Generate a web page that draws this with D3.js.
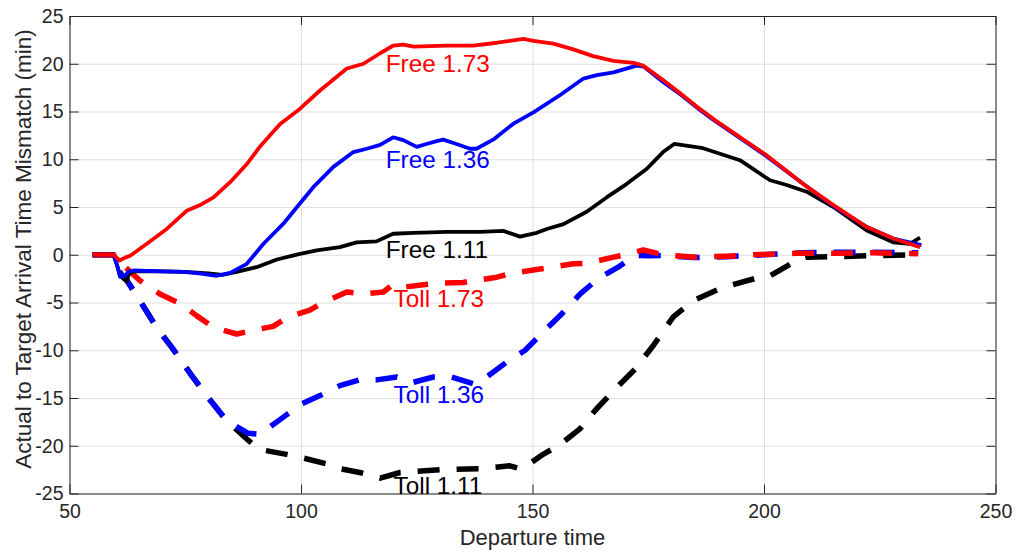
<!DOCTYPE html>
<html>
<head>
<meta charset="utf-8">
<script src="https://cdn.jsdelivr.net/npm/d3@7"></script>
<style>
body { margin: 0; background: #fff; }
text { font-family: "Liberation Sans", Arial, sans-serif; }
</style>
</head>
<body>
<div id="chart"></div>
<script>
// data
var free173X = [55, 59.5, 60.8, 62, 63.1, 66.7, 71, 75.3, 78.2, 81.1, 84.7, 88.3, 91.1, 95.5, 99.8, 104.1, 109.9, 113.5, 117.1, 119.9, 122.1, 124.3, 131.5, 137.2, 142.3, 148, 150.2, 154.5, 158.8, 163.1, 167.5, 171.8, 173.9, 178.2, 181.9, 185.8, 189.4, 200.6, 208.5, 215, 222.2, 227.9, 233.7]
var free173 = [0, 0, -0.6, -0.3, -0.1, 1.15, 2.7, 4.6, 5.2, 6.0, 7.6, 9.5, 11.3, 13.7, 15.3, 17.2, 19.5, 20.0, 21.1, 21.9, 22.0, 21.8, 21.9, 21.9, 22.2, 22.6, 22.4, 22.1, 21.5, 20.8, 20.3, 20.1, 19.8, 18.3, 16.9, 15.4, 14.1, 10.4, 7.4, 5.2, 2.9, 1.7, 0.8]

var free136X = [55, 59.5, 60.2, 60.9, 62, 62.7, 63.8, 70, 74.6, 78, 81.8, 84.7, 88.3, 91.9, 96.2, 99.8, 102.7, 107, 111.3, 114.2, 117.1, 119.9, 122.1, 125, 127.1, 129.3, 130.7, 133.6, 136.5, 137.9, 141.5, 145.8, 150.2, 155.9, 161, 163.9, 167.5, 172.5, 174, 178.2, 181.9, 185.8, 189.4, 200.6, 208.5, 215, 222.2, 227.9, 234]
var free136 = [0, 0, -0.95, -2.3, -2.2, -1.8, -1.65, -1.75, -1.8, -1.95, -2.2, -1.9, -0.95, 1.15, 3.25, 5.4, 7.1, 9.2, 10.75, 11.1, 11.5, 12.3, 12.0, 11.3, 11.6, 11.9, 12.05, 11.6, 11.1, 11.1, 12.05, 13.7, 14.9, 16.7, 18.45, 18.8, 19.1, 19.8, 19.7, 18.1, 16.8, 15.3, 14.0, 10.3, 7.4, 5.1, 2.9, 1.7, 1.0]

var free111X = [55, 59.5, 60.2, 61, 62.4, 62.8, 64, 70, 75, 80, 83, 86.1, 90.4, 94.8, 99.8, 103.4, 108.4, 112, 116.3, 119.9, 124.3, 131.5, 138.7, 143.7, 147.3, 150.9, 153.1, 156.7, 161.7, 166, 170.3, 174.7, 178.2, 180.6, 186.5, 194.8, 201.3, 204.9, 209.2, 215, 222.2, 227.9, 231.5, 233.7]
var free111 = [0, 0, -1.0, -2.2, -2.8, -2.0, -1.7, -1.75, -1.8, -1.95, -2.1, -1.8, -1.3, -0.5, 0.1, 0.45, 0.8, 1.3, 1.4, 2.2, 2.3, 2.4, 2.4, 2.5, 1.9, 2.3, 2.7, 3.2, 4.5, 6.0, 7.4, 9.0, 10.75, 11.6, 11.2, 9.9, 7.8, 7.3, 6.6, 5.0, 2.55, 1.3, 1.15, 1.8]

var toll173X = [55, 59.5, 61.6, 65.2, 69.5, 73.9, 77.5, 81.1, 86.1, 89.7, 94, 96.9, 101.9, 104.8, 109.9, 113.5, 117.8, 119.9, 122.1, 126.4, 129.3, 135, 142.3, 145.9, 151.6, 158.8, 161.7, 167.5, 170.3, 173.9, 176.8, 179.7, 185.5, 192, 199.1, 207.8, 215.7, 223.6, 233.3]
var toll173 = [0, 0, -1.1, -2.7, -4.1, -5.1, -6.4, -7.6, -8.3, -7.9, -7.5, -6.6, -5.8, -5.0, -3.9, -4.1, -3.9, -3.1, -3.4, -3.15, -3.0, -2.9, -2.35, -1.9, -1.5, -0.95, -0.9, -0.25, 0.03, 0.5, 0.17, -0.07, -0.25, -0.15, 0.03, 0.17, 0.17, 0.2, 0.1]

var toll136X = [55, 59.5, 60.2, 61.6, 62.4, 65.2, 68.8, 72.1, 76.4, 79.6, 84, 88.6, 91.1, 96.2, 100.2, 104.1, 108.4, 112.7, 116.3, 120.7, 124.3, 128.6, 132.5, 137.2, 140.1, 144.4, 148.4, 152.3, 156.3, 160.3, 164.2, 168.5, 172.1, 175, 178.2, 184.7, 192, 200, 208, 216, 224, 233.3]
var toll136 = [0, 0, -1.3, -2.35, -2.7, -4.8, -7.6, -9.7, -12.65, -14.75, -17.4, -18.7, -18.8, -17.0, -15.6, -14.75, -13.7, -13.1, -13.1, -12.8, -13.35, -12.8, -12.8, -13.5, -12.8, -11.25, -10.0, -8.1, -6.2, -4.1, -2.5, -1.3, -0.07, -0.1, -0.07, -0.3, -0.2, 0.0, 0.2, 0.27, 0.25, 0.2]

var toll111X = [55, 59.5, 60.2, 61.6, 62.4, 65.2, 68.8, 72.1, 76.4, 79.6, 84, 88.3, 91.1, 96.9, 99.8, 105.6, 108.4, 112.7, 117.1, 121.4, 124.3, 130, 138.7, 145.1, 147.3, 148.7, 152.3, 155.9, 160.3, 163.9, 168.2, 172.1, 176.1, 180.4, 184.7, 191.2, 199.1, 201.3, 207.8, 209.2, 215, 222.9, 233.3]
var toll111 = [0, 0, -1.3, -2.35, -2.7, -4.8, -7.6, -9.7, -12.65, -14.75, -17.4, -19.3, -20.4, -20.9, -21.2, -21.9, -22.4, -22.8, -23.4, -22.8, -22.7, -22.5, -22.4, -22.1, -22.4, -22.1, -20.9, -19.9, -18.2, -16.1, -13.9, -12.0, -9.5, -6.5, -4.8, -3.4, -2.35, -2.2, -0.4, -0.25, -0.2, -0.1, 0.0]

var xticks = [50, 100, 150, 200, 250]
var yticks = [-25, -20, -15, -10, -5, 0, 5, 10, 15, 20, 25]

// text labels next to the curves
var labelNames = ['Free 1.73', 'Free 1.36', 'Free 1.11', 'Toll 1.73', 'Toll 1.36', 'Toll 1.11']
var labelX = [118.3, 118.3, 118.3, 120, 120, 120]
var labelY = [20, 10, 0.5, -4.6, -14.6, -24.2]

// svg dimensions
var w = 1019,
    h = 554,
    pl = 69.5,
    pr = 995.5,
    pt = 16,
    pb = 493.5

var svg = d3.select('#chart')
    .append('svg')
    .attr('width', w)
    .attr('height', h)

// scale
var xscale = d3.scaleLinear()
    .domain([50, 250])
    .range([pl, pr])

var yscale = d3.scaleLinear()
    .domain([-25, 25])
    .range([pb, pt])

// grid
svg.append('g')
    .attr('class', 'grid')
    .attr('transform', `translate(0,${pb})`)
    .call(d3.axisBottom(xscale).tickValues(xticks).tickSize(-(pb - pt)).tickFormat(''))

svg.append('g')
    .attr('class', 'grid')
    .attr('transform', `translate(${pl},0)`)
    .call(d3.axisLeft(yscale).tickValues(yticks).tickSize(-(pr - pl)).tickFormat(''))

svg.selectAll('.grid path').remove()
svg.selectAll('.grid line')
    .attr('stroke', '#dfdfdf')
    .attr('stroke-width', 1)

// curves
var line = d3.line()
    .x(d => xscale(d[0]))
    .y(d => yscale(d[1]))

var series = [
    { x: toll111X, y: toll111, color: '#000000', dash: true },
    { x: toll136X, y: toll136, color: '#0000ff', dash: true },
    { x: toll173X, y: toll173, color: '#ff0000', dash: true },
    { x: free111X, y: free111, color: '#000000', dash: false },
    { x: free136X, y: free136, color: '#0000ff', dash: false },
    { x: free173X, y: free173, color: '#ff0000', dash: false },
]

svg.selectAll('path.curve')
    .data(series)
    .enter()
    .append('path')
    .attr('class', 'curve')
    .attr('d', d => line(d3.zip(d.x, d.y)))
    .attr('fill', 'none')
    .attr('stroke', d => d.color)
    .attr('stroke-width', d => d.dash ? 5.5 : 3.8)
    .attr('stroke-dasharray', d => d.dash ? '22,17' : null)
    .attr('stroke-linejoin', 'round')

// axis
var axisColor = '#262626'

var xaxis = d3.axisBottom(xscale)
    .tickValues(xticks)
    .tickFormat(d => d)
    .tickSize(-9)
    .tickSizeOuter(0)
    .tickPadding(11)

var yaxis = d3.axisLeft(yscale)
    .tickValues(yticks)
    .tickFormat(d => d)
    .tickSize(-9)
    .tickSizeOuter(0)
    .tickPadding(6)

svg.append('g')
    .attr('class', 'axis')
    .attr('transform', `translate(0,${pb})`)
    .call(xaxis)

svg.append('g')
    .attr('class', 'axis')
    .attr('transform', `translate(${pl},0)`)
    .call(yaxis)

svg.append('g')
    .attr('class', 'axis')
    .attr('transform', `translate(0,${pt})`)
    .call(d3.axisTop(xscale).tickValues(xticks).tickSize(-9).tickSizeOuter(0).tickFormat(''))

svg.append('g')
    .attr('class', 'axis')
    .attr('transform', `translate(${pr},0)`)
    .call(d3.axisRight(yscale).tickValues(yticks).tickSize(-9).tickSizeOuter(0).tickFormat(''))

svg.selectAll('.axis path, .axis line')
    .attr('stroke', axisColor)
    .attr('stroke-width', 1)

svg.selectAll('.axis text')
    .attr('fill', axisColor)
    .style('font-size', '19.5px')
    .style('font-family', '"Liberation Sans", Arial, sans-serif')

// curve labels
svg.selectAll('text.tag')
    .data(labelNames)
    .enter()
    .append('text')
    .attr('class', 'tag')
    .attr('x', (d, i) => xscale(labelX[i]))
    .attr('y', (d, i) => yscale(labelY[i]))
    .attr('dy', '0.35em')
    .attr('fill', (d, i) => ['#ff0000', '#0000ff', '#000000'][i % 3])
    .style('font-size', '24.3px')
    .text(d => d)

// axis titles
svg.append('text')
    .text('Departure time')
    .attr('text-anchor', 'middle')
    .attr('x', (pl + pr) / 2)
    .attr('y', 545)
    .attr('fill', axisColor)
    .style('font-size', '22px')

svg.append('text')
    .text('Actual to Target Arrival Time Mismatch (min)')
    .attr('text-anchor', 'middle')
    .attr('transform', `translate(31,249) rotate(-90)`)
    .attr('fill', axisColor)
    .style('font-size', '22.5px')
</script>
</body>
</html>
